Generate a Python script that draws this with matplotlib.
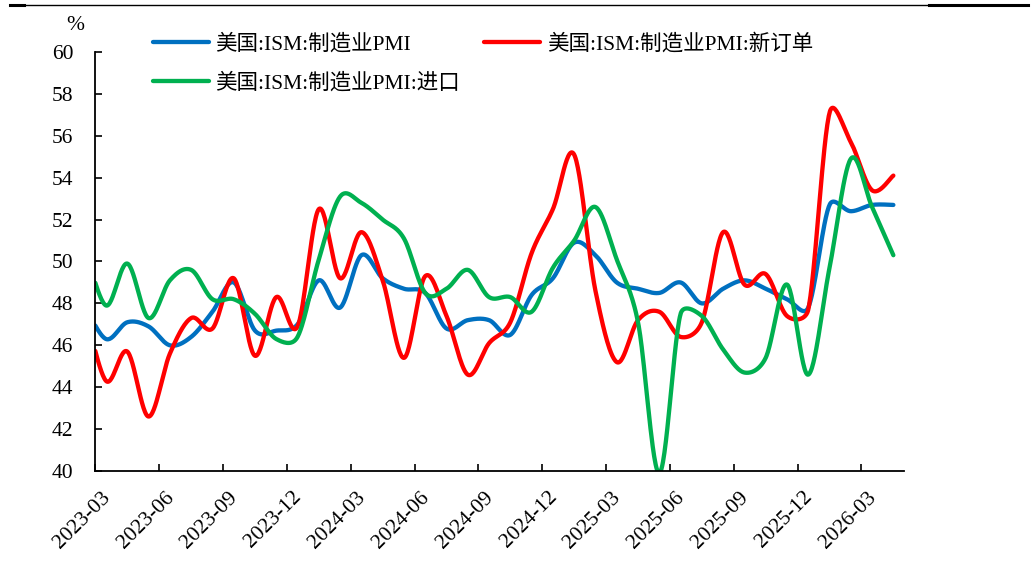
import numpy as np
import pandas as pd
import matplotlib
matplotlib.use('Agg')
import matplotlib.pyplot as plt
import matplotlib.transforms as mtransforms
from matplotlib.lines import Line2D

plt.rcParams['font.family'] = ['Liberation Serif', 'Noto Sans CJK SC']
plt.rcParams['axes.unicode_minus'] = False

# Monthly series, Feb 2023 - Apr 2026
months = pd.period_range('2023-02', '2026-04', freq='M')

pmi = [47.9, 46.3, 47.1, 46.9, 46.0, 46.4, 47.6, 49.0, 46.7, 46.7, 47.0,
       49.1, 47.8, 50.3, 49.2, 48.7, 48.5, 46.8, 47.2, 47.2, 46.5, 48.4, 49.2,
       50.9, 50.3, 49.0, 48.7, 48.5, 49.0, 48.0, 48.7, 49.1, 48.7, 48.2, 47.8,
       52.7, 52.4, 52.7, 52.7]

new_orders = [47.8, 44.3, 45.7, 42.6, 45.6, 47.3, 46.8, 49.2, 45.5, 48.3, 46.9,
              52.5, 49.2, 51.4, 49.1, 45.4, 49.3, 47.4, 44.6, 46.1, 47.1, 50.4, 52.5,
              55.1, 48.6, 45.2, 47.2, 47.6, 46.4, 47.1, 51.4, 48.9, 49.4, 47.4, 47.7,
              57.1, 55.7, 53.4, 54.1]

imports = [50.7, 47.9, 49.9, 47.3, 49.1, 49.6, 48.2, 48.2, 47.5, 46.3, 46.4,
           50.1, 53.1, 52.8, 52.0, 51.1, 48.5, 48.7, 49.6, 48.3, 48.3, 47.6, 49.7,
           51.0, 52.6, 50.1, 47.1, 39.9, 47.5, 47.4, 45.8, 44.7, 45.4, 48.9, 44.6,
           49.7, 54.9, 52.6, 50.3]

labels = ['美国:ISM:制造业PMI', '美国:ISM:制造业PMI:新订单', '美国:ISM:制造业PMI:进口']
colors = ['#0070C0', '#FF0000', '#00B050']

tick_labels = [str(p) for p in pd.period_range('2023-03', '2026-03', freq='3M')]


def smooth(ax, x, y, n=30):
    # bezier through every point, built in pixel space; control arms follow the
    # neighbours (1/6 of the chord) but never exceed half of the segment
    pts = ax.transData.transform(np.column_stack([x, y]))
    P = np.vstack([pts[0], pts, pts[-1]])
    t = np.linspace(0, 1, n)[:, None]
    out = []
    for i in range(1, len(P) - 2):
        p0, p1, p2, p3 = P[i - 1], P[i], P[i + 1], P[i + 2]
        d12 = np.hypot(*(p2 - p1))
        d02 = np.hypot(*(p2 - p0))
        d13 = np.hypot(*(p3 - p1))
        f0 = 1 / 6 if d02 / 6 < d12 / 2 else d12 / (2 * d02)
        f3 = 1 / 6 if d13 / 6 < d12 / 2 else d12 / (2 * d13)
        c1 = p1 + (p2 - p0) * f0
        c2 = p2 - (p3 - p1) * f3
        seg = ((1 - t) ** 3) * p1 + 3 * ((1 - t) ** 2) * t * c1 \
            + 3 * (1 - t) * t ** 2 * c2 + t ** 3 * p2
        out.append(seg)
    data = ax.transData.inverted().transform(np.vstack(out))
    return data[:, 0], data[:, 1]


fig = plt.figure(figsize=(10.34, 5.63), dpi=100)
ax = fig.add_axes([95.4 / 1034, 1 - 471 / 563, (904 - 95.4) / 1034, (471 - 52) / 563])
ax.set_xlim(0, 38)
ax.set_ylim(40, 60)

# points sit mid-month, ticks at the start of each quarter month
x = np.arange(len(months)) - 0.5
series = [pmi, new_orders, imports]
handles = []
for vals, lab, col in zip(series, labels, colors):
    sx, sy = smooth(ax, x, vals)
    h, = ax.plot(sx, sy, color=col, lw=3.1, label=lab, solid_capstyle='round')
    handles.append(h)

ax.set_yticks(np.arange(40, 61, 2))
ax.set_xticks(np.arange(0, 37, 3))
ax.set_xticklabels(tick_labels)

for s in ['top', 'right']:
    ax.spines[s].set_visible(False)
for s in ['left', 'bottom']:
    ax.spines[s].set_linewidth(1.3)
ax.tick_params(axis='both', direction='in', length=5, width=1.2, labelsize=15.5,
               colors='black')
ax.tick_params(axis='y', pad=16)
ax.tick_params(axis='x', pad=17)

offset = mtransforms.ScaledTranslation(12 / 100, 0, fig.dpi_scale_trans)
for lbl in ax.get_xticklabels():
    lbl.set_rotation(45)
    lbl.set_ha('right')
    lbl.set_va('center')
    lbl.set_rotation_mode('anchor')
    lbl.set_transform(lbl.get_transform() + offset)

fig.text(75 / 1034, 1 - 25 / 563, '%', fontsize=15.5, ha='center', va='center')

# legend: blue & red on first row, green below
leg = ax.legend([handles[0], handles[2], handles[1]],
                [labels[0], labels[2], labels[1]],
                ncol=2, frameon=False, loc='upper left',
                bbox_to_anchor=(153 / 1034, 1 - 34 / 563),
                bbox_transform=fig.transFigure,
                fontsize=15.5, handlelength=2.6, handletextpad=0.3,
                columnspacing=1.12, labelspacing=0.85, borderpad=0,
                borderaxespad=0)

# page rule along the top edge
fig.add_artist(Line2D([24 / 1034, 929 / 1034], [1 - 4.7 / 563] * 2,
                      color='black', lw=1.0, transform=fig.transFigure))
fig.add_artist(Line2D([10 / 1034, 24 / 1034], [1 - 5 / 563] * 2,
                      color='black', lw=2.2, transform=fig.transFigure))
fig.add_artist(Line2D([929 / 1034, 1028 / 1034], [1 - 5 / 563] * 2,
                      color='black', lw=2.2, transform=fig.transFigure))

fig.savefig('out.png', dpi=100)
